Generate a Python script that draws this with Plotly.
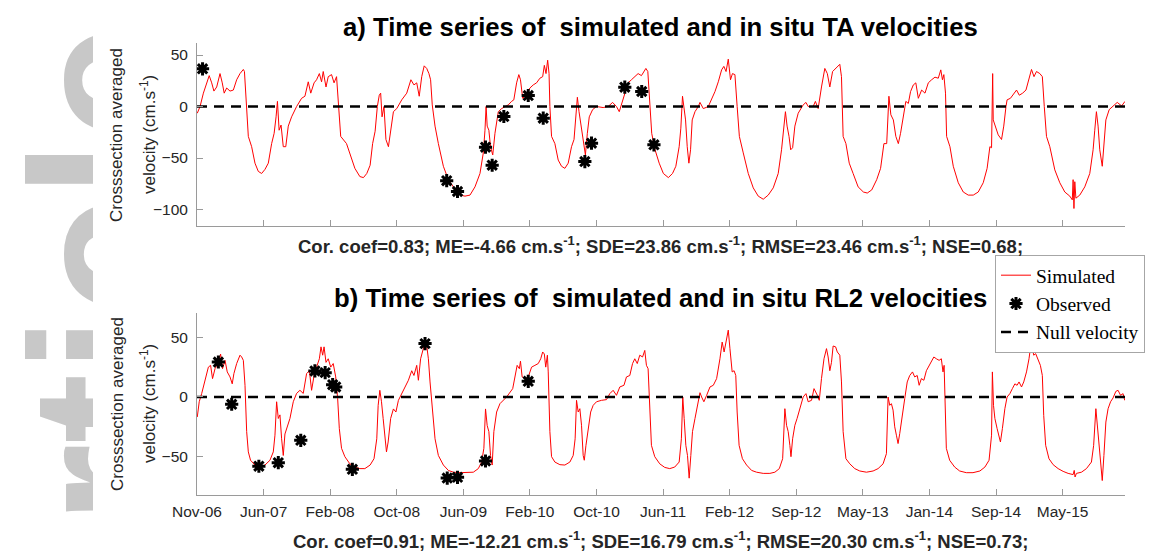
import pandas as pd
import plotly.graph_objects as go

START = pd.Timestamp("2006-11-01")
X_END_DAY = 3345

# x ticks (days after START) and their labels
tick_days = [0, 240, 480, 720, 960, 1200, 1440, 1680, 1920, 2160, 2400, 2640, 2880, 3120]
tick_labels = ["Nov-06", "Jun-07", "Feb-08", "Oct-08", "Jun-09", "Feb-10", "Oct-10",
               "Jun-11", "Feb-12", "Sep-12", "May-13", "Jan-14", "Sep-14", "May-15"]

# ---- a) TA section: simulated velocity (days after START, cm/s) ----
ta_days = [
    1, 11, 23, 35, 44, 53, 61, 71, 83, 91, 98, 107, 119, 131, 143, 155, 167, 171, 177, 185,
    197, 209, 221, 233, 245, 257, 269, 278, 285, 290, 296, 303, 311, 320, 329, 341, 359, 377, 389, 401,
    410, 422, 431, 441, 449, 455, 465, 473, 485, 494, 503, 509, 518, 539, 551, 569, 587, 600, 612, 624,
    633, 642, 650, 657, 662, 667, 674, 681, 690, 696, 708, 720, 738, 756, 771, 782, 792, 801, 810, 819,
    828, 836, 842, 848, 858, 870, 888, 906, 924, 948, 966, 984, 1002, 1020, 1032, 1038, 1042, 1046, 1052, 1058,
    1066, 1074, 1086, 1098, 1110, 1122, 1134, 1142, 1152, 1160, 1166, 1174, 1186, 1200, 1212, 1224, 1236, 1246, 1252, 1258,
    1264, 1269, 1272, 1278, 1290, 1302, 1314, 1326, 1338, 1350, 1359, 1365, 1371, 1377, 1384, 1392, 1400, 1407, 1414, 1426,
    1440, 1464, 1482, 1498, 1512, 1522, 1534, 1542, 1554, 1566, 1578, 1590, 1602, 1611, 1618, 1625, 1633, 1639, 1651, 1666,
    1681, 1699, 1714, 1726, 1738, 1744, 1750, 1755, 1761, 1767, 1773, 1779, 1785, 1795, 1807, 1813, 1825, 1843, 1855, 1867,
    1879, 1891, 1899, 1907, 1915, 1923, 1930, 1939, 1947, 1955, 1969, 1987, 2005, 2023, 2041, 2059, 2077, 2095, 2107, 2115,
    2121, 2127, 2134, 2140, 2147, 2155, 2167, 2185, 2195, 2203, 2221, 2229, 2239, 2251, 2263, 2272, 2281, 2291, 2303, 2311,
    2317, 2323, 2329, 2339, 2351, 2365, 2383, 2402, 2416, 2432, 2450, 2464, 2476, 2486, 2494, 2501, 2510, 2519, 2528, 2536,
    2546, 2555, 2564, 2572, 2582, 2591, 2600, 2612, 2624, 2636, 2648, 2660, 2672, 2681, 2687, 2692, 2698, 2702, 2714, 2726,
    2744, 2762, 2780, 2798, 2816, 2834, 2848, 2858, 2864, 2868, 2870, 2880, 2888, 2900, 2908, 2916, 2920, 2932, 2945, 2954,
    2964, 2976, 2988, 3000, 3008, 3017, 3026, 3038, 3047, 3054, 3062, 3074, 3092, 3110, 3128, 3146, 3155, 3158, 3161, 3164,
    3168, 3182, 3200, 3218, 3230, 3236, 3242, 3248, 3254, 3263, 3269, 3276, 3288, 3302, 3317, 3333, 3345,
]
ta_sim = [
    -6.5, 0, 13, 23, 30, 23, 15, 19, 32, 23, 13, 18, 15, 16, 26, 32, 36, 34, 6.5, -29,
    -39, -55, -63, -65, -61, -55, -36, -26, -10, 5, -23, -18, -39, -39, -19, -10, 0, 8, 10, 24,
    13, 23, 26, 32, 24, 34, 19, 29, 31, 23, 29, 6.5, -29, -36, -45, -60, -68, -69, -65, -57,
    -36, -24, 0, 11, 13, -10, 0, -32, -39, -26, -5, -2, 6.5, 13, 26, 21, 23, 10, 29, 39.5,
    37, 32, 26, 1.6, -19, -36, -58, -71, -78, -86, -87, -86, -78, -65, -45, -23, 0, -19, -23, -39,
    -47, -26, -5, -2, 0, 1.6, 5, 6.5, 23, 31, 26, 8, 11, 18, 21, 23, 27.5, 29, 40, 32,
    45, 32, 0, -29, -36, -52, -58, -60, -55, -39, -32, -10, 9, -5, -19, -32, -47, -26, -10, -3,
    0, -1, 0, 4, 0, -5, 5, 13, 23, 26, 29, 32, 30, 34, 37, 34, 0, -26, -42, -55,
    -65, -69, -65, -58, -39, -21, 10, 0, -13, -39, -55, -42, -13, -5, 0, 4, -2, 0, 6.5, 14.5,
    24, 35.6, 39, 34, 46, 26, 32, 31, 0, -29, -45, -65, -79, -87, -90, -86, -79, -65, -42, -21,
    -5, -19, -29, -42, -40, -19, -6.5, 1.6, 4, 0, 0, 5, -2, 19, 37, 32, 19, 34, 37, 39,
    41, 29, -29, -36, -55, -65, -78, -83, -84, -81, -71, -60, -36, -36, 10, -8, -13, -29, -36, -26,
    -10, 5, 3, 14.5, 21, 23, 8, 16, 13, 23, 26, 28.5, 27.5, 35.6, 26, 31, 13, -29, -39, -58,
    -74, -83, -86, -86, -83, -74, -60, -39, -40, 32, -13, -21, -27.5, -32, -19, 0, 6.5, 8, 13, 16,
    11, 13, 16, 29, 36, 29, 34, 32, 29, 0, -29, -39, -61.5, -74, -83, -87, -90.6, -71, -99, -73,
    -89, -86, -78, -65, -42, -23, -5, -19, -42, -58, -39, -13, -3, 0, 4, 0.6, 5,
]
ta_obs_days = [20, 900, 939, 1040, 1064, 1106, 1194, 1248, 1398, 1422, 1542, 1603, 1647]
ta_obs = [36.6, -72, -82.5, -39.5, -57, -9.7, 10.7, -11.3, -53.4, -35.6, 18.8, 14.6, -37.2]

# ---- b) RL2 section ----
rl2_days = [
    1, 8, 17, 29, 41, 49, 56, 65, 77, 85, 92, 101, 109, 119, 127, 133, 143, 155, 161, 167,
    173, 179, 185, 193, 209, 227, 245, 263, 275, 281, 287, 293, 299, 305, 311, 317, 326, 335, 347, 359,
    371, 383, 395, 405, 413, 422, 431, 441, 447, 453, 458, 465, 473, 482, 491, 500, 507, 513, 521, 533,
    551, 569, 587, 605, 624, 638, 648, 653, 659, 665, 671, 677, 683, 689, 698, 708, 717, 726, 738, 750,
    762, 774, 782, 792, 798, 806, 816, 822, 828, 834, 840, 849, 858, 870, 888, 906, 924, 948, 972, 996,
    1014, 1026, 1034, 1040, 1046, 1052, 1058, 1064, 1070, 1080, 1092, 1104, 1116, 1138, 1146, 1154, 1162, 1166, 1172, 1182,
    1194, 1206, 1218, 1230, 1239, 1246, 1252, 1257, 1263, 1266, 1272, 1278, 1290, 1308, 1326, 1344, 1356, 1363, 1368, 1374,
    1380, 1386, 1392, 1396, 1402, 1410, 1419, 1428, 1440, 1458, 1476, 1488, 1500, 1512, 1524, 1539, 1548, 1560, 1570, 1578,
    1587, 1596, 1606, 1614, 1620, 1626, 1632, 1638, 1650, 1668, 1686, 1704, 1722, 1738, 1746, 1751, 1756, 1762, 1768, 1774,
    1780, 1786, 1795, 1807, 1813, 1819, 1827, 1837, 1849, 1861, 1873, 1885, 1893, 1900, 1909, 1915, 1921, 1929, 1936, 1942,
    1947, 1954, 1966, 1981, 1999, 2017, 2041, 2065, 2083, 2099, 2111, 2119, 2125, 2131, 2137, 2141, 2147, 2155, 2163, 2173,
    2185, 2195, 2203, 2215, 2224, 2236, 2243, 2251, 2260, 2269, 2275, 2281, 2287, 2293, 2302, 2308, 2317, 2323, 2329, 2339,
    2353, 2371, 2389, 2413, 2437, 2455, 2473, 2485, 2491, 2497, 2503, 2509, 2515, 2521, 2527, 2533, 2543, 2551, 2560, 2569,
    2579, 2587, 2596, 2603, 2611, 2620, 2629, 2639, 2647, 2656, 2665, 2675, 2683, 2689, 2693, 2697, 2701, 2713, 2731, 2749,
    2773, 2797, 2822, 2840, 2855, 2864, 2867, 2871, 2876, 2884, 2890, 2896, 2903, 2912, 2920, 2930, 2939, 2948, 2956, 2963,
    2972, 2980, 2990, 2999, 3007, 3011, 3016, 3023, 3032, 3040, 3047, 3052, 3059, 3071, 3086, 3104, 3122, 3140, 3158, 3162,
    3165, 3170, 3188, 3206, 3224, 3232, 3240, 3246, 3252, 3258, 3263, 3269, 3276, 3284, 3293, 3302, 3312, 3320, 3329, 3338,
    3344,
]
rl2_sim = [
    -16.8, -4, 3, 14, 25, 26.5, 15.4, 23.7, 29, 36, 23.7, 30.7, 21, 16.8, 11, 19.6, 28, 35, 33.5, 30.7,
    9.8, -29, -46, -53, -57, -58.7, -57, -53, -46, -32, -4, -18, -15, -35, -49, -31, -24, -18, -4, 3,
    5.6, 3, 19.6, 22, 5.6, 18, 25, 32, 42, 35, 42, 29, 32, 25, 28, 16.8, -1.4, -26.5, -43, -50,
    -56, -58.7, -60, -60, -57, -51.7, -35, -7, 5.6, -4, -18, -35, -46, -37.7, -18, -10, -12.6, -2.8, 3, 8.4,
    14, 22, 18, 26.5, 14, 32, 40.5, 46, 43, 32, 12.6, -15.4, -35, -49, -57, -61.5, -63, -63.4, -63.4, -63,
    -60, -54.5, -43, -10, -24, -29, -49, -57, -29, -12.6, -5.6, -2.8, 0, 7, 18, 26.5, 23.7, 30, 16.8, 15.4,
    16.8, 25, 26.5, 28, 32, 37.7, 36, 25, 35, 21, -29, -50, -54.5, -56.7, -57, -54.5, -49, -35, -2.8, -12.6,
    -9.8, -23.7, -49, -53, -40.5, -26.5, -12.6, -7, -4, -2.8, -2.2, 2.8, 5.6, 1.4, 8.4, 9.8, 16.8, 18, 28, 32,
    28, 35, 33.5, 39, 26.5, 23.7, -15.4, -40.5, -50, -56, -59, -60, -58.7, -54.5, -35, 0, -18, -40.5, -49, -68,
    -49, -29, -18, -1.4, 3.6, 0, -4, 1.4, 8.4, 9.8, 15.4, 32, 46, 37.7, 49, 56, 40.5, 21, 22, 18,
    -12.6, -40.5, -51.7, -57, -61.5, -63, -64, -64, -63, -60, -51.7, -9.8, -23.7, -29, -40.5, -50, -35, -23.7, -18, -9.8,
    0, 2.8, -4, -2.8, 7, 1.4, -2.8, 15.4, 32, 40.5, 33.5, 22, 29, 42.7, 42, 37.7, 35, 12.6, -29, -51.7,
    -56, -60, -62, -63, -62, -60, -56, -47.5, 0, -7, -5.6, -11, -25, -32, -39, -30.7, -12.6, -1.4, 12.6, 18,
    21, 16.8, 18, 9.8, 15.4, 14, 22, 26.5, 30.7, 33.5, 32, 30.7, 32, 21, 26.5, -7, -43, -53, -58.7, -62,
    -63.4, -63.4, -62, -58.7, -53, -32, 21, -7, -18, -26.5, -33.5, -37.7, -26.5, -9.8, 0, 2.8, 7, 11, 9.8, 12.6,
    8.4, 12.6, 21, 32, 46, 42, 35, 36.3, 30.7, 26.5, 18, -15.4, -40.5, -51.7, -56.7, -60, -62.3, -64, -65, -61.5,
    -67, -64, -63, -60, -54.5, -40.5, -9.8, -26.5, -46, -60, -70, -49, -21, -9.8, -4, -0.8, 4.7, 5.6, 1.4, 2.8,
    -2.8,
]
rl2_obs_days = [77, 125, 223, 293, 374, 425, 462, 489, 500, 560, 822, 902, 939, 1040, 1194]
rl2_obs = [29.3, -6.1, -58, -55, -36.3, 21.8, 20.4, 10.3, 8.4, -60.6, 44.7, -67.9, -67.3, -53.6, 13.1]

null_days = [0, X_END_DAY]
null_vel = [0, 0]


def to_dates(days):
    return START + pd.to_timedelta(days, unit="D")


# the page body keeps its default 8px margin, so the figure is 8px smaller
OFF = 8
W, H = 1168 - OFF, 552 - OFF


def px(x):
    return (x - OFF) / W


def py(y):
    return 1 - (y - OFF) / H


SANS = "Liberation Sans, Arial, sans-serif"
SERIF = "Liberation Serif, Times New Roman, serif"
AX_GREY = "#9a9a9a"
TXT = "#262626"

fig = go.Figure()

panels = [
    ("x", "y", ta_days, ta_sim, ta_obs_days, ta_obs, False),
    ("x2", "y2", rl2_days, rl2_sim, rl2_obs_days, rl2_obs, True),
]
for xa, ya, d, sim, od, obs, leg in panels:
    fig.add_trace(go.Scatter(
        x=to_dates(d), y=sim, mode="lines", name="Simulated",
        line=dict(color="#ff0000", width=1), xaxis=xa, yaxis=ya, showlegend=leg,
    ))
    fig.add_trace(go.Scatter(
        x=to_dates(od), y=obs, mode="markers", name="Observed",
        marker=dict(symbol="asterisk-open", size=11, color="black",
                    line=dict(color="black", width=3)),
        xaxis=xa, yaxis=ya, showlegend=leg,
    ))
    fig.add_trace(go.Scatter(
        x=to_dates(null_days), y=null_vel, mode="lines", name="Null velocity",
        line=dict(color="black", width=2.5, dash="10px,7px"),
        xaxis=xa, yaxis=ya, showlegend=leg,
    ))

axis_style = dict(
    showgrid=False, zeroline=False, showline=True, linecolor=AX_GREY, linewidth=1,
    ticks="inside", ticklen=6, tickcolor=AX_GREY, tickwidth=1, automargin=False,
    tickfont=dict(family=SANS, size=15.5, color=TXT),
)
x_range = [to_dates([0])[0], to_dates([X_END_DAY])[0]]
x_dom = [px(197), px(1125)]

fig.update_layout(
    width=W, height=H,
    margin=dict(l=0, r=0, t=0, b=0, pad=0, autoexpand=False),
    paper_bgcolor="white", plot_bgcolor="white",
    xaxis=dict(domain=x_dom, anchor="y", type="date", range=x_range,
               tickvals=to_dates(tick_days), showticklabels=False, **axis_style),
    yaxis=dict(domain=[py(226), py(43.3)], anchor="x", range=[-116, 61.4],
               tickvals=[-100, -50, 0, 50], ticklabelstandoff=5, **axis_style),
    xaxis2=dict(domain=x_dom, anchor="y2", type="date", range=x_range,
                tickvals=to_dates(tick_days), ticktext=tick_labels,
                ticklabelstandoff=2, **axis_style),
    yaxis2=dict(domain=[py(495), py(313.3)], anchor="x2", range=[-82.1, 70.1],
                tickvals=[-50, 0, 50], ticklabelstandoff=5, **axis_style),
    legend=dict(x=px(995), y=py(255), xanchor="left", yanchor="top",
                bgcolor="white", bordercolor="#a6a6a6", borderwidth=1,
                font=dict(family=SERIF, size=19.5, color="black")),
    showlegend=True,
)

notes = [
    # faint watermark on the page behind the figure, cut where the figure starts
    dict(text="<b>Article</b>", textangle=-90, x=px(-15), y=py(350),
         xanchor="left", yanchor="middle", height=106, valign="top",
         font=dict(family=SANS, size=210, color="#c8c8c8")),
    dict(text="<b>a) Time series of \u00a0simulated and in situ TA velocities</b>",
         x=px(660), y=py(27), xanchor="center", yanchor="middle",
         font=dict(family=SANS, size=25.7, color="black")),
    dict(text="<b>b) Time series of \u00a0simulated and in situ RL2 velocities</b>",
         x=px(660), y=py(298), xanchor="center", yanchor="middle",
         font=dict(family=SANS, size=25.7, color="black")),
    dict(text="<b>Cor. coef=0.83; ME=-4.66 cm.s<sup>-1</sup>; SDE=23.86 cm.s<sup>-1</sup>; "
              "RMSE=23.46 cm.s<sup>-1</sup>; NSE=0.68;</b>",
         x=px(660), y=py(245), xanchor="center", yanchor="middle",
         font=dict(family=SANS, size=18.5, color=TXT)),
    dict(text="<b>Cor. coef=0.91; ME=-12.21 cm.s<sup>-1</sup>; SDE=16.79 cm.s<sup>-1</sup>; "
              "RMSE=20.30 cm.s<sup>-1</sup>; NSE=0.73;</b>",
         x=px(660), y=py(540), xanchor="center", yanchor="middle",
         font=dict(family=SANS, size=18.5, color=TXT)),
]
for yc in (135, 404):
    notes.append(dict(text="Crosssection averaged", textangle=-90, x=px(117), y=py(yc),
                      xanchor="center", yanchor="middle",
                      font=dict(family=SANS, size=17, color=TXT)))
    notes.append(dict(text="velocity (cm.s<sup>-1</sup>)", textangle=-90, x=px(148), y=py(yc),
                      xanchor="center", yanchor="middle",
                      font=dict(family=SANS, size=17, color=TXT)))

for n in notes:
    fig.add_annotation(xref="paper", yref="paper", showarrow=False, **n)

fig.write_html("out.html")
